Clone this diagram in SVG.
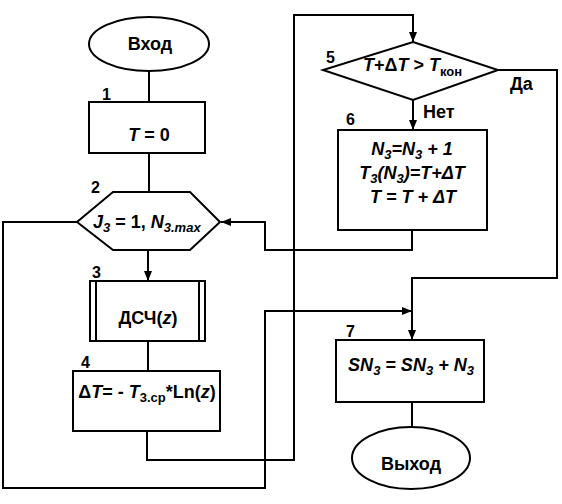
<svg xmlns="http://www.w3.org/2000/svg" width="562" height="504" viewBox="0 0 562 504">
<style>
.s{fill:none;stroke:#000;stroke-width:2}
.b{fill:#fff;stroke:#000;stroke-width:2}
text{font-family:"Liberation Sans",Arial,sans-serif;font-weight:bold;fill:#000}
.t{font-size:18px}
.n{font-size:16px}
.i{font-style:italic}
.sub{font-size:13px}
</style>
<defs>
<marker id="ah" viewBox="0 0 10 8" refX="10" refY="4" markerWidth="10" markerHeight="8" markerUnits="userSpaceOnUse" orient="auto">
<path d="M0,0 L10,4 L0,8 Z" fill="#000"/>
</marker>
</defs>
<rect width="562" height="504" fill="#fff"/>
<g id="connectors">
<path class="s" d="M149,71 V102"/>
<path class="s" d="M149,153 V192"/>
<path class="s" d="M148,250 V281" marker-end="url(#ah)"/>
<path class="s" d="M148,341 V371"/>
<path class="s" d="M147,431 V460 H294 V15 H413 V42" marker-end="url(#ah)"/>
<path class="s" d="M413,100 V130" marker-end="url(#ah)"/>
<path class="s" d="M412,230 V250 H265 V222 H221" marker-end="url(#ah)"/>
<path class="s" d="M498,70 H557 V278 H412 V340" marker-end="url(#ah)"/>
<path class="s" d="M77,222 H3 V488 H265 V311 H412" marker-end="url(#ah)"/>
<path class="s" d="M412,402 V427"/>
<text class="t" x="510" y="90">Да</text>
<text class="t" x="423" y="118">Нет</text>
</g>
<g id="start">
<ellipse class="b" cx="149" cy="44" rx="60" ry="27"/>
<text class="t" x="150" y="50" text-anchor="middle">Вход</text>
</g>
<g id="node1">
<rect class="b" x="89" y="102" width="116" height="51"/>
<text class="n" x="102" y="100">1</text>
<text class="t" x="149" y="141" text-anchor="middle"><tspan class="i">T</tspan> = 0</text>
</g>
<g id="node2">
<polygon class="b" points="113,192 190,192 220,222 190,250 113,250 77,222"/>
<text class="n" x="91" y="193">2</text>
<text class="t" x="93" y="228"><tspan class="i">J</tspan><tspan class="sub i" dy="4">3</tspan><tspan dy="-4"> = 1, </tspan><tspan class="i">N</tspan><tspan class="sub i" dy="4">3.max</tspan></text>
</g>
<g id="node3">
<rect class="b" x="90" y="281" width="115" height="60"/>
<path class="s" d="M96,281 V341 M199,281 V341"/>
<text class="n" x="92" y="278">3</text>
<text class="t" x="148" y="324" text-anchor="middle">ДСЧ(<tspan class="i">z</tspan>)</text>
</g>
<g id="node4">
<rect class="b" x="73" y="371" width="147" height="60"/>
<text class="n" x="81" y="368">4</text>
<text class="t" x="147" y="398" text-anchor="middle">Δ<tspan class="i">T</tspan>= - <tspan class="i">T</tspan><tspan class="sub" dy="4">3.ср</tspan><tspan dy="-4">*Ln(</tspan><tspan class="i">z</tspan>)</text>
</g>
<g id="node5">
<polygon class="b" points="413,42 498,70 413,100 323,70"/>
<text class="n" x="326" y="63">5</text>
<text class="t" x="363" y="71"><tspan class="i">T</tspan>+Δ<tspan class="i">T</tspan> &gt; <tspan class="i">T</tspan><tspan class="sub" dy="5">кон</tspan></text>
</g>
<g id="node6">
<rect class="b" x="338" y="130" width="149" height="100"/>
<text class="n" x="346" y="125">6</text>
<text class="t i" x="412" y="155" text-anchor="middle">N<tspan class="sub" dy="4">3</tspan><tspan dy="-4">=N</tspan><tspan class="sub" dy="4">3</tspan><tspan dy="-4"> + 1</tspan></text>
<text class="t i" x="412" y="179" text-anchor="middle">T<tspan class="sub" dy="4">3</tspan><tspan dy="-4">(N</tspan><tspan class="sub" dy="4">3</tspan><tspan dy="-4">)=T+ΔT</tspan></text>
<text class="t i" x="413" y="203" text-anchor="middle">T = T + ΔT</text>
</g>
<g id="node7">
<rect class="b" x="336" y="340" width="148" height="62"/>
<text class="n" x="346" y="337">7</text>
<text class="t i" x="411" y="371" text-anchor="middle">SN<tspan class="sub" dy="4">3</tspan><tspan dy="-4"> = SN</tspan><tspan class="sub" dy="4">3</tspan><tspan dy="-4"> + N</tspan><tspan class="sub" dy="4">3</tspan></text>
</g>
<g id="end">
<ellipse class="b" cx="411" cy="458" rx="59" ry="31"/>
<text class="t" x="411" y="470" text-anchor="middle">Выход</text>
</g>
</svg>
